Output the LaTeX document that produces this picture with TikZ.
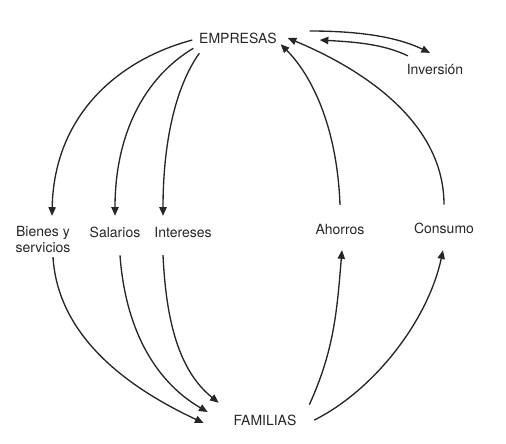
\documentclass[tikz,border=0pt]{standalone}
\usepackage{fontspec}
\setmainfont{TeX Gyre Heros}
\usetikzlibrary{arrows.meta}

\begin{document}
\begin{tikzpicture}[x=0.75pt, y=-0.75pt, >={Triangle[length=6.5pt, width=5.5pt]},
    every node/.style={font=\fontsize{10.5}{12}\selectfont, text=black!85, inner sep=2pt},
    flow/.style={->, line width=1pt, black!85}]
  \useasboundingbox (0,0) rectangle (506,443);
  \node (emp) at (238,38) {EMPRESAS};
  \node (inv) at (435,69) {Inversión};
  \node[align=center] (bie) at (43,239) {Bienes y\\servicios};
  \node (sal) at (115,232) {Salarios};
  \node (int) at (183,232) {Intereses};
  \node (aho) at (340,229) {Ahorros};
  \node (con) at (444,228) {Consumo};
  \node (fam) at (265,420) {FAMILIAS};
  \draw[flow] ([shift={(-4,2)}]emp.west) .. controls +(-75,20) and +(2,-100) .. ([shift={(9,-7)}]bie.north);
  \draw[flow] ([shift={(-3,2)}]emp.south west) .. controls +(-50,30) and +(0,-80) .. ([shift={(0,-8)}]sal.north);
  \draw[flow] ([shift={(3,7)}]emp.south west) .. controls +(-25,35) and +(0,-70) .. ([shift={(-20,-8)}]int.north);
  \draw[flow] ([shift={(0,-16)}]aho.north) .. controls +(-3,-80) and +(30,30) .. ([shift={(1,-2)}]emp.south east);
  \draw[flow] ([shift={(0,-15)}]con.north) .. controls +(0,-90) and +(60,25) .. ([shift={(8,0)}]emp.east);
  \draw[flow] ([shift={(30,-7)}]emp.east) .. controls +(45,0) and +(-35,-17) .. ([shift={(-5,-8)}]inv.north);
  \draw[flow] ([shift={(4,-5)}]inv.north west) .. controls +(-25,-12) and +(35,2) .. ([shift={(40,2)}]emp.east);
  \draw[flow] ([shift={(10,2)}]bie.south) .. controls +(5,80) and +(-75,-35) .. ([shift={(-27,3)}]fam.west);
  \draw[flow] ([shift={(5,15)}]sal.south) .. controls +(5,70) and +(-55,-32) .. ([shift={(-23,-8)}]fam.west);
  \draw[flow] ([shift={(-20,15)}]int.south) .. controls +(3,65) and +(-40,-32) .. ([shift={(-12,-9)}]fam.north west);
  \draw[flow] ([shift={(10,-7)}]fam.north east) .. controls +(25,-55) and +(-5,60) .. ([shift={(2,13)}]aho.south);
  \draw[flow] ([shift={(15,0)}]fam.east) .. controls +(60,-30) and +(-15,70) .. ([shift={(-1,14)}]con.south);
\end{tikzpicture}
\end{document}
